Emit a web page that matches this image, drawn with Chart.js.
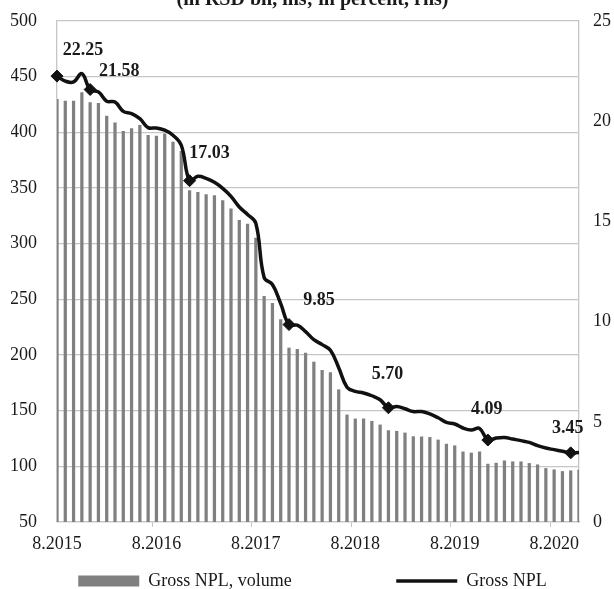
<!DOCTYPE html>
<html>
<head>
<meta charset="utf-8">
<script src="https://cdn.jsdelivr.net/npm/chart.js@4/dist/chart.umd.min.js"></script>
<style>
  html, body { margin: 0; padding: 0; background: #fff; overflow: hidden; }
  #marco { position: relative; width: 614px; height: 589px; overflow: hidden; }
  #lienzo { position: absolute; left: 0; top: -12px; width: 614px; height: 612px; }
</style>
</head>
<body>
<div id="marco"><div id="lienzo"><canvas id="graficoNPL"></canvas></div></div>
<script>
// Months, 8.2015 - 11.2020
const meses = [
  '8.2015','9.2015','10.2015','11.2015','12.2015',
  '1.2016','2.2016','3.2016','4.2016','5.2016','6.2016','7.2016','8.2016','9.2016','10.2016','11.2016','12.2016',
  '1.2017','2.2017','3.2017','4.2017','5.2017','6.2017','7.2017','8.2017','9.2017','10.2017','11.2017','12.2017',
  '1.2018','2.2018','3.2018','4.2018','5.2018','6.2018','7.2018','8.2018','9.2018','10.2018','11.2018','12.2018',
  '1.2019','2.2019','3.2019','4.2019','5.2019','6.2019','7.2019','8.2019','9.2019','10.2019','11.2019','12.2019',
  '1.2020','2.2020','3.2020','4.2020','5.2020','6.2020','7.2020','8.2020','9.2020','10.2020','11.2020'
];

// Tick labels shown on the x axis
const etiquetasEje = ['8.2015', '8.2016', '8.2017', '8.2018', '8.2019', '8.2020'];

// Gross NPL, volume (RSD bn, lhs)
const volumenNPL = [
  429.7, 428, 428, 435.7, 426.7, 426, 414.6, 408.6, 401, 403.3, 406.2, 397.2,
  396.6, 398.7, 391.2, 383, 347.6, 346.2, 344, 343.3, 338.6, 331.4, 321, 317.7,
  305, 252.6, 246.3, 231.9, 206.3, 205.1, 201.8, 193.7, 186.2, 184.1, 168.8, 146.2,
  142.6, 142.6, 140.5, 137.2, 132.1, 131.5, 130, 126.7, 126.4, 126, 123.7, 120,
  118.5, 113, 112, 113, 102, 102.9, 105, 104.1, 104.1, 102.6, 101.4, 98.1,
  96.9, 95.4, 96, 96.6
];

// Gross NPL (percent, rhs)
const tasaNPL = [
  22.25, 22.0, 21.96, 22.37, 21.58, 21.46, 21.0, 20.96, 20.49, 20.38, 20.13, 19.68,
  19.66, 19.55, 19.3, 18.8, 17.03, 17.25, 17.15, 16.95, 16.65, 16.25, 15.72, 15.35,
  14.9, 12.2, 11.85, 10.9, 9.85, 9.82, 9.5, 9.1, 8.85, 8.57, 7.7, 6.73,
  6.52, 6.44, 6.3, 6.1, 5.70, 5.76, 5.65, 5.51, 5.51, 5.39, 5.2, 4.97,
  4.89, 4.69, 4.59, 4.67, 4.09, 4.19, 4.22, 4.14, 4.06, 3.97, 3.81, 3.69,
  3.61, 3.53, 3.45, 3.47
];

// Points with a marker and a value label
const puntosMarcados = [0, 4, 16, 28, 40, 52, 62];

const fuente = '"Liberation Serif", "Times New Roman", serif';
const gris = '#c6c6c6';

// Value labels next to the markers
const etiquetasValor = {
  id: 'etiquetasValor',
  afterDatasetsDraw(chart, args, opts) {
    const meta = chart.getDatasetMeta(1);
    const ctx = chart.ctx;
    ctx.save();
    ctx.font = 'bold 18px ' + fuente;
    ctx.fillStyle = '#1a1a1a';
    ctx.textAlign = 'center';
    ctx.textBaseline = 'middle';
    puntosMarcados.forEach((i, k) => {
      const p = meta.data[i];
      const d = opts.desplazamientos[k];
      ctx.fillText(tasaNPL[i].toFixed(2), p.x + d[0], p.y + d[1]);
    });
    ctx.restore();
  }
};

const ctx = document.getElementById('graficoNPL').getContext('2d');
const grafico = new Chart(ctx, {
  type: 'bar',
  data: {
    labels: meses,
    datasets: [{
      label: 'Gross NPL, volume',
      data: volumenNPL,
      yAxisID: 'y',
      backgroundColor: '#808080',
      barThickness: 2.6,
      order: 2
    }, {
      type: 'line',
      label: 'Gross NPL',
      data: tasaNPL,
      yAxisID: 'y2',
      borderColor: '#111',
      borderWidth: 3.5,
      tension: 0.4,
      clip: 10,
      pointStyle: 'rectRot',
      pointRadius: tasaNPL.map((v, i) => puntosMarcados.includes(i) ? 6 : 0),
      pointBackgroundColor: '#111',
      pointBorderColor: '#111',
      pointBorderWidth: 1,
      order: 1
    }]
  },
  options: {
    responsive: true,
    maintainAspectRatio: false,
    animation: false,
    layout: { padding: { left: 11, right: 0, top: 0, bottom: 0 } },
    plugins: {
      title: {
        display: true,
        text: '(in RSD bn, lhs; in percent, rhs)',
        color: '#1a1a1a',
        font: { family: fuente, size: 20, weight: 'bold' },
        padding: { top: 0, bottom: 9 }
      },
      legend: {
        position: 'bottom',
        labels: {
          color: '#1a1a1a',
          font: { family: fuente, size: 18 },
          usePointStyle: true,
          pointStyleWidth: 61,
          boxHeight: 11,
          padding: 10,
          generateLabels(chart) {
            const items = Chart.defaults.plugins.legend.labels.generateLabels(chart);
            items.sort((a, b) => a.datasetIndex - b.datasetIndex);
            items.forEach(it => {
              if (it.datasetIndex === 0) {
                it.pointStyle = 'rect';
                it.fillStyle = '#808080';
                it.lineWidth = 0;
                it.text = it.text + ' '.repeat(21);
              } else {
                it.pointStyle = 'line';
                it.strokeStyle = '#111';
                it.lineWidth = 3.5;
              }
            });
            return items;
          }
        }
      },
      tooltip: { enabled: false },
      etiquetasValor: {
        desplazamientos: [[26, -26], [29, -18], [20, -27], [30, -24], [-1, -33], [-1, -31], [-3, -25]]
      }
    },
    scales: {
      x: {
        offset: false,
        afterFit(scale) { scale.height = 40; },
        grid: {
          drawOnChartArea: false,
          drawTicks: true,
          tickLength: 5,
          color: c => etiquetasEje.includes(meses[c.index]) ? gris : 'rgba(0,0,0,0)'
        },
        border: { display: true, color: gris, width: 1.3 },
        ticks: {
          autoSkip: false,
          maxRotation: 0,
          padding: 6,
          color: '#1a1a1a',
          font: { family: fuente, size: 18 },
          callback(v, i) { return etiquetasEje.includes(meses[i]) ? meses[i] : ''; }
        }
      },
      y: {
        position: 'left',
        min: 50,
        max: 500,
        afterFit(scale) { scale.width = 46; },
        grid: { color: gris, lineWidth: 1.3, drawTicks: false },
        border: { display: true, color: gris, width: 1.3 },
        ticks: {
          stepSize: 50,
          padding: 20,
          color: '#1a1a1a',
          font: { family: fuente, size: 18 }
        }
      },
      y2: {
        position: 'right',
        min: 0,
        max: 25,
        afterFit(scale) { scale.width = 35; },
        grid: { display: false, drawTicks: false },
        border: { display: true, color: gris, width: 1.3 },
        ticks: {
          stepSize: 5,
          padding: 14,
          color: '#1a1a1a',
          font: { family: fuente, size: 18 }
        }
      }
    }
  },
  plugins: [etiquetasValor]
});
</script>
</body>
</html>
